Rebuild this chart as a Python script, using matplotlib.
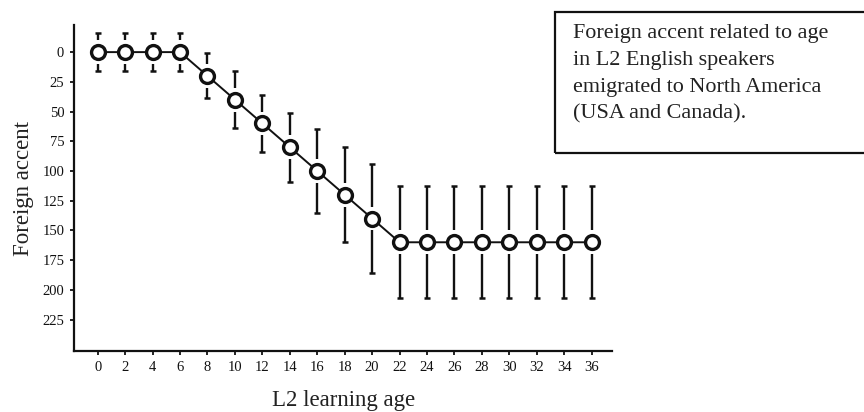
import matplotlib.pyplot as plt
from matplotlib.patches import Rectangle

# learning age vs. foreign accent score (lower on the axis = stronger accent)
ages = [0, 2, 4, 6, 8, 10, 12, 14, 16, 18, 20, 22, 24, 26, 28, 30, 32, 34, 36]
accent = [0, 0, 0, 0, 20, 40, 60, 80, 100, 120, 140,
          160, 160, 160, 160, 160, 160, 160, 160]
spread = [16, 16, 16, 16, 19, 24, 24, 29, 35, 40, 46,
          47, 47, 47, 47, 47, 47, 47, 47]
y_ticks = [0, 25, 50, 75, 100, 125, 150, 175, 200, 225]
x_ticks = list(range(0, 37, 2))
note = ("Foreign accent related to age\n"
        "in L2 English speakers\n"
        "emigrated to North America\n"
        "(USA and Canada).")

plt.rcParams['font.family'] = ['Liberation Serif', 'DejaVu Serif']

fig = plt.figure(figsize=(8.64, 4.12), dpi=100)
ax = fig.add_axes([0.0856, 0.148, 0.623, 0.791])

# error bars split around each marker, with small caps at the ends
gap = 10
for x, y, e in zip(ages, accent, spread):
    ax.vlines(x, y - e, y - gap, color="#111111", lw=1.7, zorder=2)
    ax.vlines(x, y + gap, y + e, color="#111111", lw=1.7, zorder=2)
    ax.plot([x, x], [y - e, y + e], ls="none", marker="_", ms=5,
            mew=1.8, color="#111111", zorder=2)

ax.plot(ages, accent, color="#111111", lw=1.4, marker="o", ms=10,
        mfc="white", mec="#111111", mew=2.4, zorder=3)

ax.set_xlim(-1.73, 37.5)
ax.set_ylim(251.5, -22.7)
ax.set_xticks(x_ticks)
ax.set_yticks(y_ticks)

for side in ("top", "right"):
    ax.spines[side].set_visible(False)
for side in ("left", "bottom"):
    ax.spines[side].set_linewidth(1.6)
    ax.spines[side].set_color("#111111")

ax.tick_params(direction="out", length=3, width=1.3, labelsize=10.5,
               colors="#111111", pad=4)

ax.set_xlabel("L2 learning age", fontsize=16.5, color="#222222", labelpad=12)
ax.set_ylabel("Foreign accent", fontsize=16.5, color="#222222", labelpad=6)

# caption box in the upper right, running off the right edge
fig.patches.append(Rectangle((555 / 864, 1 - 153 / 412), 0.4, 141 / 412,
                             transform=fig.transFigure, fill=False,
                             lw=1.6, edgecolor="#111111"))
fig.text(573 / 864, 1 - 24 / 412, note, fontsize=15.9, color="#222222",
         va="top", ha="left", linespacing=1.56)

fig.savefig("out.png", dpi=100)
